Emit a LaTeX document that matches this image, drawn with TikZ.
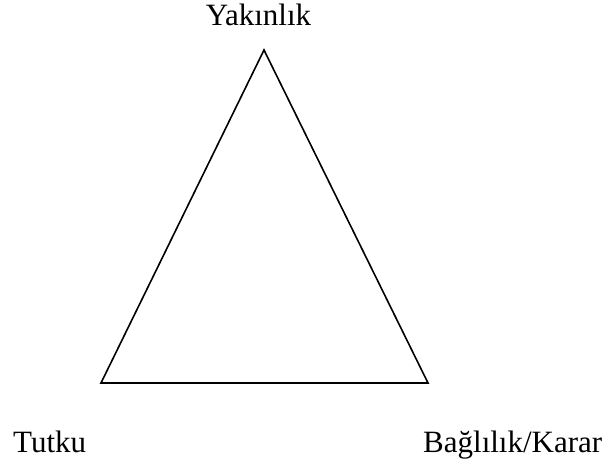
\documentclass[tikz,border=0pt]{standalone}
\usepackage{fontspec}
\setmainfont{Liberation Serif}
\begin{document}
\begin{tikzpicture}[x=1pt,y=-1pt,
  lbl/.style={inner sep=0pt,font=\fontsize{31}{36}\selectfont},
  tri/.style={draw=black,line width=1.6pt,line join=miter}]
\useasboundingbox (0,0) rectangle (611,464);
\coordinate (A) at (264,50);
\coordinate (B) at (101,383);
\coordinate (C) at (428,383);
\draw[tri] (A) -- (B) -- (C) -- cycle;
\node[lbl,anchor=base] (top) at (258.5,25) {Yakınlık};
\node[lbl,anchor=base west] (left) at (13,452) {Tutku};
\node[lbl,anchor=base west] (right) at (423,452) {Bağlılık/Karar};
\end{tikzpicture}
\end{document}
